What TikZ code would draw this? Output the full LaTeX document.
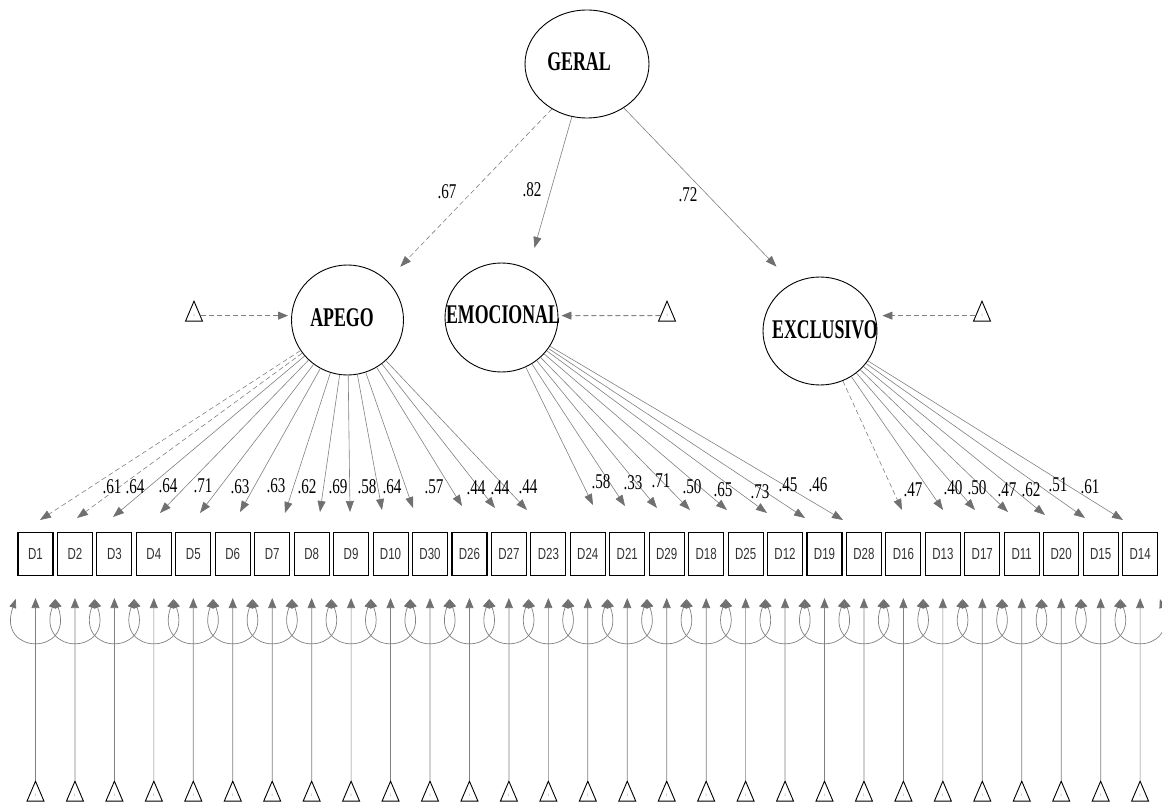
\documentclass[tikz,border=0pt]{standalone}
\usepackage{fontspec}
\setmainfont{Liberation Serif}
\setsansfont{Liberation Sans}
\usepackage{graphicx}
\usetikzlibrary{arrows.meta,shapes.geometric,calc}
\newcommand{\nar}[1]{\scalebox{0.72}[1]{#1}}
\newcommand{\narb}[1]{\scalebox{0.66}[1]{#1}}
\definecolor{ln}{RGB}{128,128,128}
\definecolor{hd}{RGB}{112,112,112}
\tikzset{
  latent/.style={ellipse, draw=black, line width=0.9pt, inner sep=0pt},
  lname/.style={inner sep=0pt, font=\bfseries\fontsize{27}{27}\selectfont},
  obs/.style={rectangle, draw=black, line width=1.1pt, minimum width=35pt, minimum height=43pt, inner sep=0pt, font=\sffamily\fontsize{16}{16}\selectfont, text=black!80},
  tri/.style={isosceles triangle, isosceles triangle stretches, shape border rotate=90, minimum width=17pt, minimum height=20pt, draw=black, line width=0.9pt, inner sep=0pt, font=\fontsize{4}{4}\selectfont, text=black!50},
  dsh/.style={dash pattern=on 5pt off 3pt},
  load/.style={draw=ln, line width=0.6pt, -{Triangle[length=11pt,width=8pt,color=hd]}},
  vert/.style={draw=ln, line width=0.7pt, -{Triangle[length=10pt,width=8pt,color=hd]}},
  arcst/.style={draw=ln, line width=0.7pt, {Triangle[length=9pt,width=7pt,color=hd]}-{Triangle[length=9pt,width=7pt,color=hd]}},
  dashar/.style={draw=ln, line width=0.8pt, dsh, -{Triangle[length=10pt,width=8pt,color=hd]}},
  ld/.style={inner sep=0pt, font=\fontsize{21}{21}\selectfont}
}
\begin{document}
\begin{tikzpicture}[x=1pt,y=-1pt]
\useasboundingbox (0,0) rectangle (1162,802);
% latent variables
\node[latent, minimum width=124pt, minimum height=108pt] (geral) at (587,64) {};
\node[lname] (geralT) at (579,62) {\narb{GERAL}};
\node[latent, minimum width=112pt, minimum height=110pt] (apego) at (347.5,320) {};
\node[lname] (apegoT) at (342,318) {\narb{APEGO}};
\node[latent, minimum width=113pt, minimum height=109pt] (emoc) at (501.5,317.5) {};
\node[lname] (emocT) at (503,315) {\narb{EMOCIONAL}};
\node[latent, minimum width=114pt, minimum height=108pt] (excl) at (820,331) {};
\node[lname] (exclT) at (825,330) {\narb{EXCLUSIVO}};
% second-order paths
\draw[load, dsh, shorten >=19pt] (geral.-128) -- (apego.45);
\draw[load, shorten >=22pt] (geral.-106) -- (emoc.61);
\draw[load, shorten >=23pt] (geral.-50) -- (excl.120);
\node[ld] (g1) at (447,192) {\nar{.67}};
\node[ld] (g2) at (532,190) {\nar{.82}};
\node[ld] (g3) at (688,195) {\nar{.72}};
% intercept triangles of latents
\node[tri, anchor=apex] (ta) at (194,300) {1};
\node[tri, anchor=apex] (te) at (667,300) {1};
\node[tri, anchor=apex] (tx) at (982,300) {1};
\draw[dashar, shorten >=3pt] (ta) -- (ta -| apego.west);
\draw[dashar, shorten >=3pt] (te) -- (te -| emoc.east);
\draw[dashar, shorten >=5pt] (tx) -- (tx -| excl.east);
% observed variables, intercepts and arcs
\foreach \lab [count=\i from 0] in {D1,D2,D3,D4,D5,D6,D7,D8,D9,D10,D30,D26,D27,D23,D24,D21,D29,D18,D25,D12,D19,D28,D16,D13,D17,D11,D20,D15,D14}{
  \pgfmathsetmacro{\xx}{35.5+39.45*\i}
  \node[obs] (b\i) at (\xx,554) {\nar{\lab}};
  \node[tri, anchor=apex] (u\i) at (\xx,780) {1};
  \draw[vert, shorten >=22pt] (u\i) -- (b\i);
  \coordinate (m\i) at ({\xx-19.725},599);
  \coordinate (n\i) at ({\xx+19.725},599);
  \draw[arcst] (m\i) .. controls ($(m\i)+(-20,57)$) and ($(n\i)+(20,57)$) .. (n\i);
}
% loadings APEGO
\foreach \j/\tx/\ty/\st in {0/40/520/dsh,1/77/518/dsh,2/113/517/solid,3/160/513/solid,4/200/513/solid,5/240/512/solid,6/285/513/solid,7/320/512/solid,8/350/512/solid,9/382/510/solid,10/413/508/solid,11/462/506/solid,12/495/508/solid,13/527/510/solid}{
  \coordinate (t\j) at (\tx,\ty);
  \draw[load,\st] (apego) -- (t\j);
}
% loadings EMOCIONAL
\foreach \j/\tx/\ty in {14/593/505,15/625/506,16/657/508,17/690/510,18/727/510,19/767/513,20/805/518,21/843/520}{
  \coordinate (t\j) at (\tx,\ty);
  \draw[load] (emoc) -- (t\j);
}
% loadings EXCLUSIVO
\foreach \j/\tx/\ty/\st in {22/902/510/dsh,23/943/510/solid,24/975/510/solid,25/1008/512/solid,26/1045/515/solid,27/1085/518/solid,28/1123/520/solid}{
  \coordinate (t\j) at (\tx,\ty);
  \draw[load,\st] (excl) -- (t\j);
}
% loading values
\foreach \v/\lx/\ly [count=\k] in {.61/112/487,.64/135/487,.64/168/486,.71/203/486,.63/240/487,.63/276/486,.62/307/487,.69/338/487,.58/367/487,.64/392/487,.57/434/487,.44/476/488,.44/500/488,.44/528/487,.58/601/482,.33/633/483,.71/661/481,.50/692/487,.65/723/490,.73/760/492,.45/788/485,.46/818/485,.47/913/490,.40/953/488,.50/977/488,.47/1007/490,.62/1031/490,.51/1058/485,.61/1090/487}{
  \node[ld] (lv\k) at (\lx,\ly) {\nar{\v}};
}
\end{tikzpicture}
\end{document}
